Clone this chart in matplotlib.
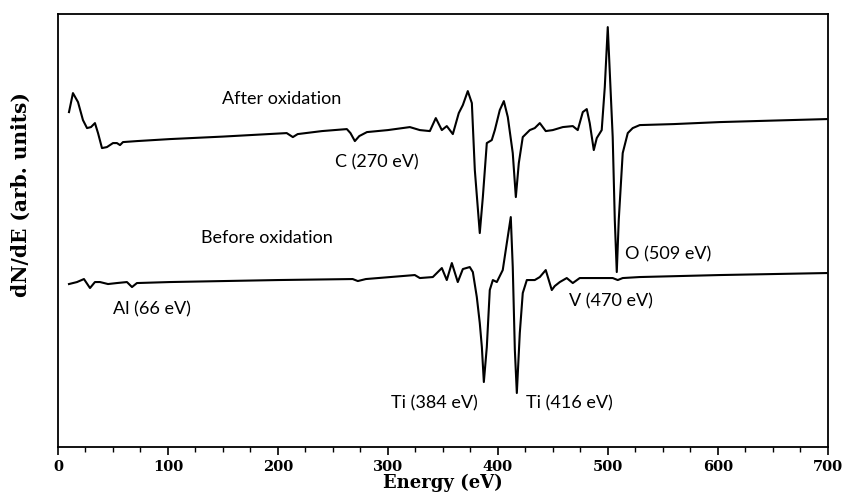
import matplotlib
matplotlib.use('Agg')
import matplotlib.pyplot as plt
from matplotlib.ticker import MultipleLocator

# Energy (eV) and signal (arb. units)
energy_after = [10, 13.6, 18.2, 22.7, 26.4, 30, 33.6, 36.4, 40, 44.5, 50, 53.6, 56.4, 59.1,
                71.8, 101.8, 150, 208, 213.6, 218, 240, 262.7, 266, 270, 274, 281, 300, 320,
                329.1, 338.2, 343.6, 349.1, 353.6, 359.1, 364.5, 368.2, 372.7, 376.4, 379.1,
                383.6, 386.4, 390, 394.5, 397.3, 401.8, 405.5, 409.1, 413.6, 416.4, 419.1,
                422.7, 429.1, 433.6, 438.2, 443.6, 450, 459.1, 468.2, 472.7, 477.3, 480.9,
                483.6, 487.3, 490, 494.5, 497.3, 500, 504.5, 506.4, 508.2, 510, 513.6, 518.2,
                522.7, 529.1, 560, 601.8, 650, 699]
signal_after = [335, 354, 345, 327, 319, 320, 324, 314, 299, 300, 304, 304, 302, 305,
                306, 308, 310.5, 314, 310, 313, 316, 318, 314, 306, 311, 315, 317, 320,
                317, 316, 329, 317, 321, 313, 334, 342, 356, 344, 277,
                214, 250, 304, 307, 317, 337, 346, 330, 294, 250, 284,
                310, 317, 319, 324, 316, 317, 320, 321, 317, 335, 338,
                324, 297, 309, 317, 360, 420, 310, 227, 175, 227, 294, 314,
                319, 322, 323, 325, 326.5, 328]

energy_before = [10, 17.3, 23.6, 29.1, 33.6, 38.2, 45.5, 53.6, 62.7, 67.3, 71.8, 101.8, 200,
                 268, 272.7, 280, 324.5, 329.1, 340.9, 349.1, 353.6, 358.2, 363.6, 368.2,
                 374.5, 377.3, 380.9, 383.6, 385.5, 387.3, 390, 392.7, 395.5, 399.1, 404.5,
                 408.2, 411.8, 413.6, 415.5, 417.3, 420, 422.7, 426.4, 433.6, 438.2, 443.6,
                 449.1, 451.8, 456.4, 462.7, 468.2, 474.5, 486.4, 504.5, 509.1, 513.6, 529.1,
                 601.8, 699]
signal_before = [163, 165, 168, 159, 165, 165, 163, 164, 165, 160, 164, 165, 167,
                 168, 166, 168, 172, 169, 170, 179, 167, 184, 165, 178,
                 180, 175, 150, 124, 100, 65, 100, 157, 167, 165, 177,
                 204, 230, 180, 97, 54, 114, 154, 167, 167, 170, 177,
                 157, 161, 165, 169, 164, 169, 169, 169, 167, 169, 170,
                 172, 174]

# annotation texts and where they sit (energy, signal)
labels = ['After oxidation', 'Before oxidation', 'C (270 eV)', 'Al (66 eV)',
          'Ti (384 eV)', 'Ti (416 eV)', 'V (470 eV)', 'O (509 eV)']
label_x = [203.6, 190, 290, 85.5, 342, 465.5, 503, 555]
label_y = [348, 209, 285, 138, 44, 44, 146, 193]

fig = plt.figure(figsize=(8.43, 4.97), dpi=100)
ax = fig.add_axes([0.0688, 0.1006, 0.913, 0.871])

ax.plot(energy_after, signal_after, color='black', linewidth=1.5)
ax.plot(energy_before, signal_before, color='black', linewidth=1.5)

for txt, lx, ly in zip(labels, label_x, label_y):
    ax.text(lx, ly, txt, ha='center', va='center', fontsize=13, family='Lato')

ax.set_xlim(0, 700)
ax.set_ylim(0, 433)
ax.xaxis.set_major_locator(MultipleLocator(100))
ax.xaxis.set_minor_locator(MultipleLocator(25))
ax.tick_params(axis='x', which='major', direction='out', length=6, width=1.2, pad=3)
ax.tick_params(axis='x', which='minor', direction='out', length=3.5, width=1)
ax.set_yticks([])
for lbl in ax.get_xticklabels():
    lbl.set_family('DejaVu Serif')
    lbl.set_fontweight('bold')
    lbl.set_fontsize(10.5)
for sp in ax.spines.values():
    sp.set_linewidth(1.3)

ax.set_xlabel('Energy (eV)', family='DejaVu Serif', fontweight='bold', fontsize=13, labelpad=0)
ax.set_ylabel('dN/dE (arb. units)', family='DejaVu Serif', fontweight='bold', fontsize=14.5)
ax.yaxis.set_label_coords(-0.036, 0.582)

fig.savefig('out.png', dpi=100)
